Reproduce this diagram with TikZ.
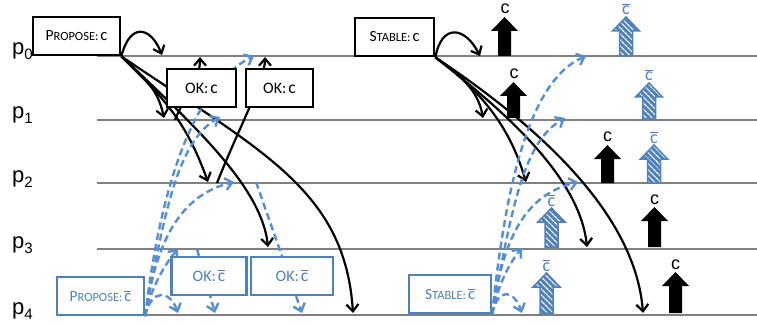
\documentclass[tikz,border=0pt]{standalone}
\usepackage{fontspec}
\setmainfont{Carlito}
\newfontfamily\plabelfont{Liberation Sans}
\usetikzlibrary{arrows.meta,patterns.meta}

\definecolor{msgblue}{RGB}{85,142,213}
\definecolor{boxblue}{RGB}{79,129,189}
\definecolor{rulegray}{RGB}{128,128,128}

\pgfdeclarelayer{back}
\pgfsetlayers{back,main}

\newcommand{\fs}[1]{\fontsize{#1}{#1}\selectfont}
\newcommand{\cbar}{{\setbox0\hbox{c}\rlap{\raisebox{\dimexpr\ht0+1.8pt\relax}{\rule{\wd0}{0.9pt}}}c}}
\newcommand{\procname}[1]{{\plabelfont\fs{22}p\raisebox{-5pt}{\fs{15}#1}}}
% upward block arrow: style, centre x, tip y, base y
\newcommand{\blockup}[4]{\path[#1] (#2-6.5,#4) -- (#2-6.5,#3+14) -- (#2-13.5,#3+14) -- (#2,#3) -- (#2+13.5,#3+14) -- (#2+6.5,#3+14) -- (#2+6.5,#4) -- cycle;}

\begin{document}
\begin{tikzpicture}[x=1pt,y=-1pt,
  timeline/.style={rulegray, line width=1.5pt},
  plabel/.style={anchor=base west, inner sep=0pt},
  msg/.style={line width=2.2pt, -{Straight Barb[length=7pt,width=12pt]}},
  bmsg/.style={msgblue, line width=2.4pt, dash pattern=on 7pt off 4pt, -{Straight Barb[length=7pt,width=12pt]}},
  kbox/.style={draw, fill=white, line width=2.8pt, inner sep=0pt, minimum height=38pt},
  bbox/.style={draw=boxblue, text=boxblue, fill=white, line width=2.3pt, inner sep=0pt, minimum height=38pt},
  solidup/.style={fill=black},
  hatchup/.style={preaction={fill=boxblue}, pattern={Lines[angle=-45,distance=4pt,line width=1.3pt]}, pattern color=white, draw=boxblue, line width=1.5pt},
  klab/.style={anchor=base, inner sep=0pt, font=\plabelfont\fs{18}},
  blab/.style={anchor=base, inner sep=0pt, text=boxblue, font=\fs{18}},
]
\useasboundingbox (0,0) rectangle (757,326);

% process labels
\node[plabel] (lp0) at (12,55) {\procname{0}};
\node[plabel] (lp1) at (12,119) {\procname{1}};
\node[plabel] (lp2) at (12,182) {\procname{2}};
\node[plabel] (lp3) at (12,248) {\procname{3}};
\node[plabel] (lp4) at (12,314) {\procname{4}};

% message boxes
\node[kbox, minimum width=87pt] (propC) at (76.5,36) {\fs{15.5}P\fs{12.5}ROPOSE:\hspace{2pt}\fs{16.5}c};
\node[kbox, minimum width=69pt] (okC1) at (201.5,88) {\fs{16}OK:\hspace{2pt}\fs{17.5}c};
\node[kbox, minimum width=67pt] (okC2) at (279.5,88) {\fs{16}OK:\hspace{2pt}\fs{17.5}c};
\node[kbox, minimum width=79pt] (stabC) at (394.5,37) {\fs{15.5}S\fs{12.5}TABLE:\hspace{2pt}\fs{16.5}c};
\node[bbox, minimum width=87pt] (propCb) at (100.5,296) {\fs{15.5}P\fs{12.5}ROPOSE:\hspace{2pt}\fs{16.5}\cbar};
\node[bbox, minimum width=75pt] (okCb1) at (209,276) {\fs{16}OK:\hspace{2pt}\fs{17.5}\cbar};
\node[bbox, minimum width=82pt] (okCb2) at (292,276) {\fs{16}OK:\hspace{2pt}\fs{17.5}\cbar};
\node[bbox, minimum width=82pt] (stabCb) at (450,294) {\fs{15.5}S\fs{12.5}TABLE:\hspace{2pt}\fs{16.5}\cbar};

% message end points on the process lines
\coordinate (a00) at (162,55);  \coordinate (a01) at (164,118);
\coordinate (a02) at (208,182); \coordinate (a03) at (268,247);
\coordinate (a04) at (353,313);
\coordinate (s10) at (175,120); \coordinate (a10) at (200,57);
\coordinate (s20) at (217,183); \coordinate (a20) at (265,57);
\coordinate (d44) at (178,313); \coordinate (d43) at (178,249);
\coordinate (d42) at (234,182); \coordinate (d41) at (220,117);
\coordinate (d40) at (254,56);
\coordinate (s34) at (197,249); \coordinate (d34) at (215,313);
\coordinate (s24) at (256,182); \coordinate (d24) at (302,313);
\coordinate (r00) at (480,56);  \coordinate (r01) at (483,118);
\coordinate (r02) at (526,182); \coordinate (r03) at (587,247);
\coordinate (r04) at (643,313);
\coordinate (e44) at (522,313); \coordinate (e43) at (522,248);
\coordinate (e42) at (578,182); \coordinate (e41) at (565,118);
\coordinate (e40) at (586,56);

\begin{pgfonlayer}{back}
  \foreach \y in {56,120,183,249,315} \draw[timeline] (97,\y) -- (757,\y);

  % proposal of c from p0
  \draw[msg] (propC.south east) .. controls +(8,-33) and +(-12,-30) .. (a00);
  \draw[msg] (propC.south east) .. controls +(25,23) and +(-6,-28) .. (a01);
  \draw[msg] (propC.south east) .. controls +(40,40) and +(-23,-64) .. (a02);
  \draw[msg] (propC.south east) .. controls +(80,75) and +(-6,-57) .. (a03);
  \draw[msg] (propC.south east) .. controls +(140,95) and +(-8,-123) .. (a04);
  % acknowledgements back to p0
  \draw[msg] (s10) .. controls (185,95) and (200,80) .. (a10);
  \draw[msg] (s20) .. controls (240,125) and (265,80) .. (a20);

  % proposal of c-bar from p4
  \draw[bmsg] (propCb.south east) .. controls +(6,-28) and +(-8,-23) .. (d44);
  \draw[bmsg] (propCb.south east) .. controls +(6,-30) and +(-12,14) .. (d43);
  \draw[bmsg] (propCb.south east) .. controls +(11,-75) and +(-54,13) .. (d42);
  \draw[bmsg] (propCb.south east) .. controls +(21,-115) and +(-40,23) .. (d41);
  \draw[bmsg] (propCb.south east) .. controls +(16,-135) and +(-59,29) .. (d40);
  \draw[bmsg] (s34) -- (d34);
  \draw[bmsg] (s24) -- (d24);

  % stable c from p0
  \draw[msg] (stabC.south east) .. controls +(6,-34) and +(-15,-30) .. (r00);
  \draw[msg] (stabC.south east) .. controls +(26,19) and +(-5,-28) .. (r01);
  \draw[msg] (stabC.south east) .. controls +(61,44) and +(-11,-37) .. (r02);
  \draw[msg] (stabC.south east) .. controls +(76,59) and +(-7,-67) .. (r03);
  \draw[msg] (stabC.south east) .. controls +(96,64) and +(-8,-103) .. (r04);

  % stable c-bar from p4
  \draw[bmsg] (stabCb.south east) .. controls +(6,-28) and +(-8,-23) .. (e44);
  \draw[bmsg] (stabCb.south east) .. controls +(6,-30) and +(-12,14) .. (e43);
  \draw[bmsg] (stabCb.south east) .. controls +(11,-75) and +(-54,13) .. (e42);
  \draw[bmsg] (stabCb.south east) .. controls +(21,-115) and +(-40,23) .. (e41);
  \draw[bmsg] (stabCb.south east) .. controls +(14,-133) and +(-56,24) .. (e40);
\end{pgfonlayer}

% decisions
\blockup{solidup}{504.5}{17}{56}
\blockup{solidup}{513.5}{82}{118}
\blockup{solidup}{607.5}{145}{183}
\blockup{solidup}{654.5}{207}{247}
\blockup{solidup}{675.5}{272}{313}
\blockup{hatchup}{626}{17}{56}
\blockup{hatchup}{649}{83}{119}
\blockup{hatchup}{654}{145}{183}
\blockup{hatchup}{551.5}{208}{247}
\blockup{hatchup}{546.5}{273}{313}

\node[klab] (lk0) at (505,14) {c};
\node[klab] (lk1) at (514,79) {c};
\node[klab] (lk2) at (607.5,142) {c};
\node[klab] (lk3) at (654.5,204) {c};
\node[klab] (lk4) at (675.5,269) {c};
\node[blab] (lb0) at (626,15) {\cbar};
\node[blab] (lb1) at (649,81) {\cbar};
\node[blab] (lb2) at (654,143) {\cbar};
\node[blab] (lb3) at (551.5,206) {\cbar};
\node[blab] (lb4) at (546.5,271) {\cbar};
\end{tikzpicture}
\end{document}
